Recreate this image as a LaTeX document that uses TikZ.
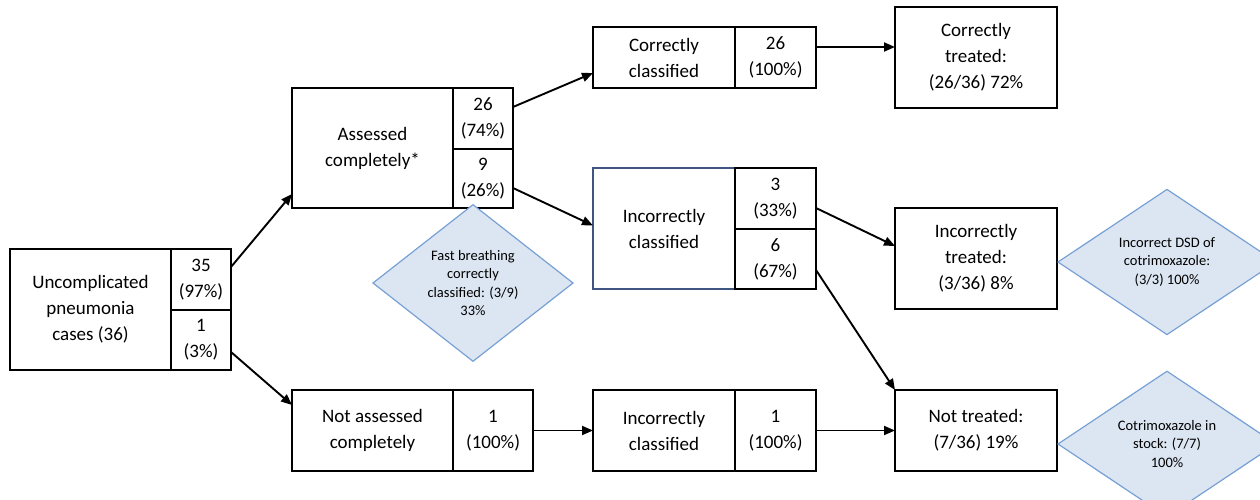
\documentclass[tikz,border=0pt]{standalone}
\usepackage{fontspec}
\setmainfont{Carlito}
\usetikzlibrary{shapes.geometric,arrows.meta,calc}

\definecolor{diafill}{HTML}{DCE6F2}
\definecolor{diadraw}{HTML}{77A0D4}
\definecolor{boxblue}{HTML}{3F5680}

\begin{document}
\begin{tikzpicture}[x=1pt,y=-1pt,
  box/.style={draw=black,line width=1.5pt,rectangle,inner sep=0pt,outer sep=0pt,
    align=center,anchor=north west,font=\fontsize{19}{26}\selectfont},
  dia/.style={diamond,draw=diadraw,fill=diafill,line width=1.2pt,inner sep=0pt,
    outer sep=0pt,align=center,font=\fontsize{14.5}{18.5}\selectfont},
  arr/.style={draw=black,line width=1.9pt,-{Triangle[length=11pt,width=9pt]}}]

\clip (0,0) rectangle (1260,500);

% starting population
\node[box,minimum width=161pt,minimum height=121pt] (unc) at (10,249) {Uncomplicated\\pneumonia\\cases (36)};
\node[box,minimum width=60pt,minimum height=61pt] (unc-a) at (171,249) {35\\(97\%)};
\node[box,minimum width=60pt,minimum height=60pt] (unc-b) at (171,310) {1\\(3\%)};

% assessment
\node[box,minimum width=161pt,minimum height=120pt] (ass) at (292,88) {Assessed\\completely*};
\node[box,minimum width=60pt,minimum height=61pt] (ass-a) at (453,88) {26\\(74\%)};
\node[box,minimum width=60pt,minimum height=59pt] (ass-b) at (453,149) {9\\(26\%)};

\node[box,minimum width=161pt,minimum height=81pt] (na) at (292,390) {Not assessed\\completely};
\node[box,minimum width=80pt,minimum height=81pt] (na-n) at (453,390) {1\\(100\%)};

% classification
\node[box,minimum width=142pt,minimum height=61pt] (cc) at (593,27) {Correctly\\classified};
\node[box,minimum width=81pt,minimum height=61pt] (cc-n) at (735,27) {26\\(100\%)};

\node[box,draw=boxblue,minimum width=142pt,minimum height=121pt] (ic) at (593,168) {Incorrectly\\classified};
\node[box,minimum width=81pt,minimum height=61pt] (ic-a) at (735,168) {3\\(33\%)};
\node[box,minimum width=81pt,minimum height=60pt] (ic-b) at (735,229) {6\\(67\%)};

\node[box,minimum width=142pt,minimum height=81pt] (icb) at (593,390) {Incorrectly\\classified};
\node[box,minimum width=81pt,minimum height=81pt] (icb-n) at (735,390) {1\\(100\%)};

% treatment outcome
\node[box,minimum width=162pt,minimum height=101pt] (ct) at (895,7) {Correctly\\treated:\\(26/36) 72\%};
\node[box,minimum width=162pt,minimum height=101pt] (it) at (895,208) {Incorrectly\\treated:\\(3/36) 8\%};
\node[box,minimum width=162pt,minimum height=81pt] (nt) at (895,390) {Not treated:\\(7/36) 19\%};

% side notes
\node[dia,minimum width=200pt,minimum height=148pt] (fast) at (473,283) {Fast breathing\\correctly\\classified: (3/9)\\33\%};
\node[dia,minimum width=218pt,minimum height=109pt] (dsd) at (1167,262) {Incorrect DSD of\\cotrimoxazole:\\(3/3) 100\%};
\node[dia,minimum width=218pt,minimum height=108pt] (stock) at (1167,444) {Cotrimoxazole in\\stock: (7/7)\\100\%};

% flows
\draw[arr] ($(unc-a.north east)+(0,18)$) -- ($(ass.south west)+(0,-14)$);
\draw[arr] ($(unc-b.south east)+(0,-18)$) -- ($(na.north west)+(0,15)$);
\draw[arr] ($(ass-a.north east)+(0,19)$) -- ($(cc.south west)+(0,-15)$);
\draw[arr] ($(ass-b.south east)+(0,-20)$) -- ($(ic.west)+(0,-3)$);
\draw[arr] ($(cc-n.north east)+(0,20)$) -- ($(ct.north west)+(0,40)$);
\draw[arr] ($(ic-a.north east)+(0,40)$) -- ($(it.north west)+(0,38)$);
\draw[arr] ($(ic-b.north east)+(0,41)$) -- (nt.north west);
\draw[arr] (na-n.east) -- (icb.west);
\draw[arr] (icb-n.east) -- (nt.west);
\end{tikzpicture}
\end{document}
